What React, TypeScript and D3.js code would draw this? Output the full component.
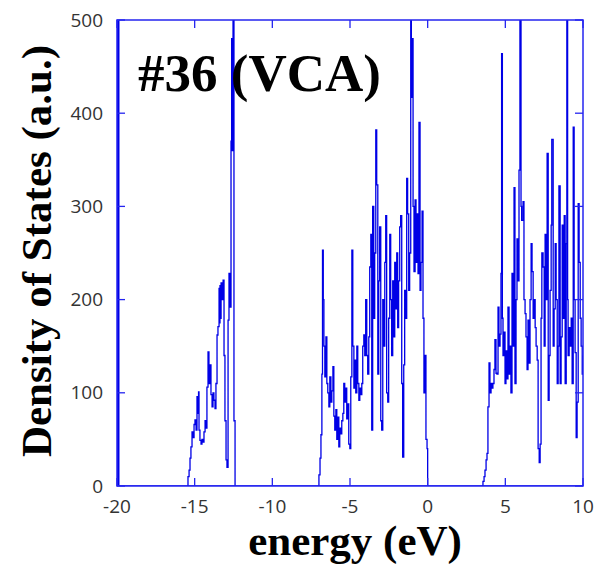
import React, { useEffect, useRef } from 'react';
import * as d3 from 'd3';

// spike at the left edge of the window
const edgeEnergy = [-20, -19.97];
const edgeDos = [600, 0];

// first band (around -15 .. -12.4 eV)
const band1Energy = [-15.49, -15.43, -15.36, -15.30, -15.24, -15.17, -15.11, -15.04, -14.98, -14.91, -14.85, -14.79, -14.75, -14.72, -14.66, -14.59, -14.53, -14.46, -14.40, -14.33, -14.27, -14.21, -14.14, -14.08, -14.01, -13.95, -13.88, -13.82, -13.76, -13.69, -13.63, -13.56, -13.50, -13.43, -13.40, -13.37, -13.34, -13.30, -13.24, -13.17, -13.11, -13.05, -12.98, -12.92, -12.85, -12.79, -12.72, -12.66, -12.62, -12.58, -12.53, -12.47, -12.40];
const band1Dos = [0, 10, 17, 30, 42, 58, 52, 66, 71, 60, 96, 78, 101, 60, 49, 45, 50, 47, 58, 70, 62, 106, 144, 110, 130, 98, 85, 100, 92, 83, 110, 162, 171, 212, 175, 215, 180, 218, 200, 221, 140, 70, 28, 20, 178, 228, 192, 370, 480, 360, 520, 70, 0];

// valence band (around -7 .. 0 eV)
const band2Energy = [-7.06, -7.00, -6.93, -6.87, -6.81, -6.77, -6.72, -6.68, -6.62, -6.55, -6.49, -6.43, -6.36, -6.30, -6.23, -6.17, -6.10, -6.04, -5.98, -5.91, -5.85, -5.78, -5.72, -5.66, -5.59, -5.53, -5.46, -5.40, -5.34, -5.27, -5.21, -5.14, -5.08, -5.01, -4.95, -4.88, -4.82, -4.75, -4.69, -4.63, -4.56, -4.50, -4.43, -4.37, -4.31, -4.24, -4.18, -4.11, -4.05, -3.99, -3.92, -3.86, -3.79, -3.73, -3.66, -3.60, -3.54, -3.47, -3.41, -3.34, -3.28, -3.21, -3.15, -3.09, -3.02, -2.96, -2.89, -2.83, -2.76, -2.70, -2.64, -2.57, -2.51, -2.44, -2.38, -2.32, -2.25, -2.19, -2.12, -2.06, -1.99, -1.93, -1.87, -1.80, -1.74, -1.67, -1.61, -1.54, -1.48, -1.42, -1.35, -1.29, -1.22, -1.16, -1.09, -1.05, -1.00, -0.94, -0.88, -0.81, -0.75, -0.68, -0.62, -0.56, -0.49, -0.43, -0.36, -0.30, -0.24, -0.17, -0.11, -0.04, 0.00];
const band2Dos = [0, 12, 30, 55, 120, 253, 200, 150, 117, 160, 110, 100, 85, 117, 90, 102, 128, 75, 60, 82, 50, 74, 42, 62, 56, 70, 78, 110, 90, 105, 72, 88, 45, 40, 117, 253, 150, 105, 135, 100, 150, 110, 92, 105, 98, 110, 150, 162, 140, 200, 140, 120, 160, 235, 270, 60, 300, 180, 250, 382, 323, 120, 220, 278, 70, 60, 200, 150, 240, 290, 100, 90, 180, 270, 200, 140, 220, 160, 240, 190, 250, 170, 220, 278, 290, 110, 31, 130, 210, 180, 330, 292, 210, 250, 520, 417, 480, 300, 230, 307, 240, 292, 228, 390, 210, 240, 295, 180, 100, 140, 50, 40, 0];

// conduction band (3.5 .. 10 eV)
const band3Energy = [3.50, 3.56, 3.63, 3.69, 3.76, 3.82, 3.88, 3.95, 4.01, 4.08, 4.14, 4.20, 4.27, 4.33, 4.40, 4.46, 4.53, 4.59, 4.66, 4.72, 4.76, 4.81, 4.85, 4.91, 4.98, 5.04, 5.11, 5.17, 5.24, 5.30, 5.36, 5.43, 5.49, 5.56, 5.62, 5.69, 5.75, 5.81, 5.88, 5.94, 6.01, 6.05, 6.14, 6.20, 6.27, 6.33, 6.40, 6.46, 6.53, 6.59, 6.66, 6.72, 6.79, 6.85, 6.92, 6.98, 7.05, 7.11, 7.18, 7.24, 7.30, 7.35, 7.43, 7.50, 7.56, 7.63, 7.69, 7.76, 7.82, 7.88, 7.95, 7.99, 8.08, 8.14, 8.21, 8.27, 8.34, 8.40, 8.45, 8.53, 8.59, 8.66, 8.72, 8.79, 8.85, 8.92, 8.96, 9.01, 9.04, 9.11, 9.17, 9.24, 9.30, 9.37, 9.43, 9.49, 9.56, 9.62, 9.69, 9.75, 9.82, 9.88, 9.95, 10.0];
const band3Dos = [0, 5, 10, 17, 28, 35, 85, 132, 100, 110, 105, 110, 125, 157, 121, 120, 192, 150, 163, 228, 464, 180, 140, 165, 110, 145, 115, 192, 120, 150, 100, 228, 150, 320, 110, 200, 265, 220, 339, 520, 300, 285, 305, 200, 185, 160, 125, 178, 132, 200, 260, 230, 180, 200, 170, 150, 135, 40, 25, 45, 180, 250, 235, 150, 270, 200, 357, 92, 140, 210, 280, 372, 150, 190, 260, 200, 110, 150, 322, 110, 160, 280, 180, 290, 110, 260, 520, 200, 140, 170, 150, 180, 110, 385, 200, 143, 52, 90, 303, 240, 180, 150, 120, 140];

const xTicks = [-20, -15, -10, -5, 0, 5, 10];
const yTicks = [0, 100, 200, 300, 400, 500];

const W = 597, H = 566;
const margin = { left: 117, right: 14, top: 20, bottom: 80 };

const App = () => {
    const svgRef = useRef<SVGSVGElement>(null);

    useEffect(() => {
        const svg = d3.select(svgRef.current);
        svg.selectAll('*').remove();

        const x = d3.scaleLinear().domain([-20, 10]).range([margin.left, W - margin.right]);
        const y = d3.scaleLinear().domain([0, 500]).range([H - margin.bottom, margin.top]);

        svg.append('defs').append('clipPath').attr('id', 'plotclip')
            .append('rect')
            .attr('x', x(-20)).attr('y', y(500))
            .attr('width', x(10) - x(-20)).attr('height', y(0) - y(500));

        const line = d3.line<[number, number]>()
            .x(d => x(d[0]))
            .y(d => y(d[1]))
            .curve(d3.curveStepAfter);

        const series = [
            [edgeEnergy, edgeDos],
            [band1Energy, band1Dos],
            [band2Energy, band2Dos],
            [band3Energy, band3Dos],
        ];

        const g = svg.append('g').attr('clip-path', 'url(#plotclip)');
        g.append('path')
            .attr('d', `M${x(-20)},${y(0)}H${x(10)}`)
            .attr('stroke', '#0000e6').attr('stroke-width', 1.5);
        series.forEach(([en, dos]) => {
            const pts = en.map((e, i) => [e, dos[i]] as [number, number]);
            g.append('path')
                .attr('d', line(pts))
                .attr('fill', 'none')
                .attr('stroke', '#0000e6')
                .attr('stroke-width', 1.3);
        });
        // thick spike at the left edge
        g.append('line')
            .attr('x1', x(-20) + 1).attr('x2', x(-20) + 1)
            .attr('y1', y(0)).attr('y2', y(500))
            .attr('stroke', '#0000e6').attr('stroke-width', 3);

        // frame
        svg.append('rect')
            .attr('x', x(-20)).attr('y', y(500))
            .attr('width', x(10) - x(-20)).attr('height', y(0) - y(500))
            .attr('fill', 'none').attr('stroke', '#2424f0').attr('stroke-width', 1.5);

        const tk = 8;
        const tickG = svg.append('g').attr('stroke', '#2424f0').attr('stroke-width', 1.3);
        xTicks.forEach(t => {
            tickG.append('line').attr('x1', x(t)).attr('x2', x(t)).attr('y1', y(0)).attr('y2', y(0) - tk);
            tickG.append('line').attr('x1', x(t)).attr('x2', x(t)).attr('y1', y(500)).attr('y2', y(500) + tk);
        });
        yTicks.forEach(t => {
            tickG.append('line').attr('x1', x(-20)).attr('x2', x(-20) + tk).attr('y1', y(t)).attr('y2', y(t));
            tickG.append('line').attr('x1', x(10)).attr('x2', x(10) - tk).attr('y1', y(t)).attr('y2', y(t));
        });

        const labelFont = '"Open Sans", sans-serif';
        svg.append('g').selectAll('text').data(xTicks).join('text')
            .attr('x', d => x(d)).attr('y', y(0) + 27)
            .attr('text-anchor', 'middle')
            .attr('font-family', labelFont).attr('font-size', 19)
            .attr('fill', '#333')
            .text(d => d);
        svg.append('g').selectAll('text').data(yTicks).join('text')
            .attr('x', x(-20) - 14).attr('y', d => y(d))
            .attr('dy', '0.35em')
            .attr('text-anchor', 'end')
            .attr('font-family', labelFont).attr('font-size', 19)
            .attr('fill', '#333')
            .text(d => d);

        const titleFont = '"Liberation Serif", "Times New Roman", serif';
        svg.append('text')
            .attr('x', 355).attr('y', 555)
            .attr('text-anchor', 'middle')
            .attr('font-family', titleFont).attr('font-weight', 'bold').attr('font-size', 43)
            .attr('fill', '#000')
            .text('energy (eV)');
        svg.append('text')
            .attr('transform', 'translate(51,251) rotate(-90)')
            .attr('text-anchor', 'middle')
            .attr('font-family', titleFont).attr('font-weight', 'bold').attr('font-size', 43)
            .attr('fill', '#000')
            .text('Density of States (a.u.)');
        svg.append('text')
            .attr('x', 138).attr('y', 91)
            .attr('font-family', titleFont).attr('font-weight', 'bold').attr('font-size', 53)
            .attr('fill', '#000')
            .text('#36 (VCA)');
    }, []);

    return (
        <svg ref={svgRef} width={W} height={H}
            style={{ position: 'absolute', left: 0, top: 0, background: '#fff' }} />
    );
};

export default App;
